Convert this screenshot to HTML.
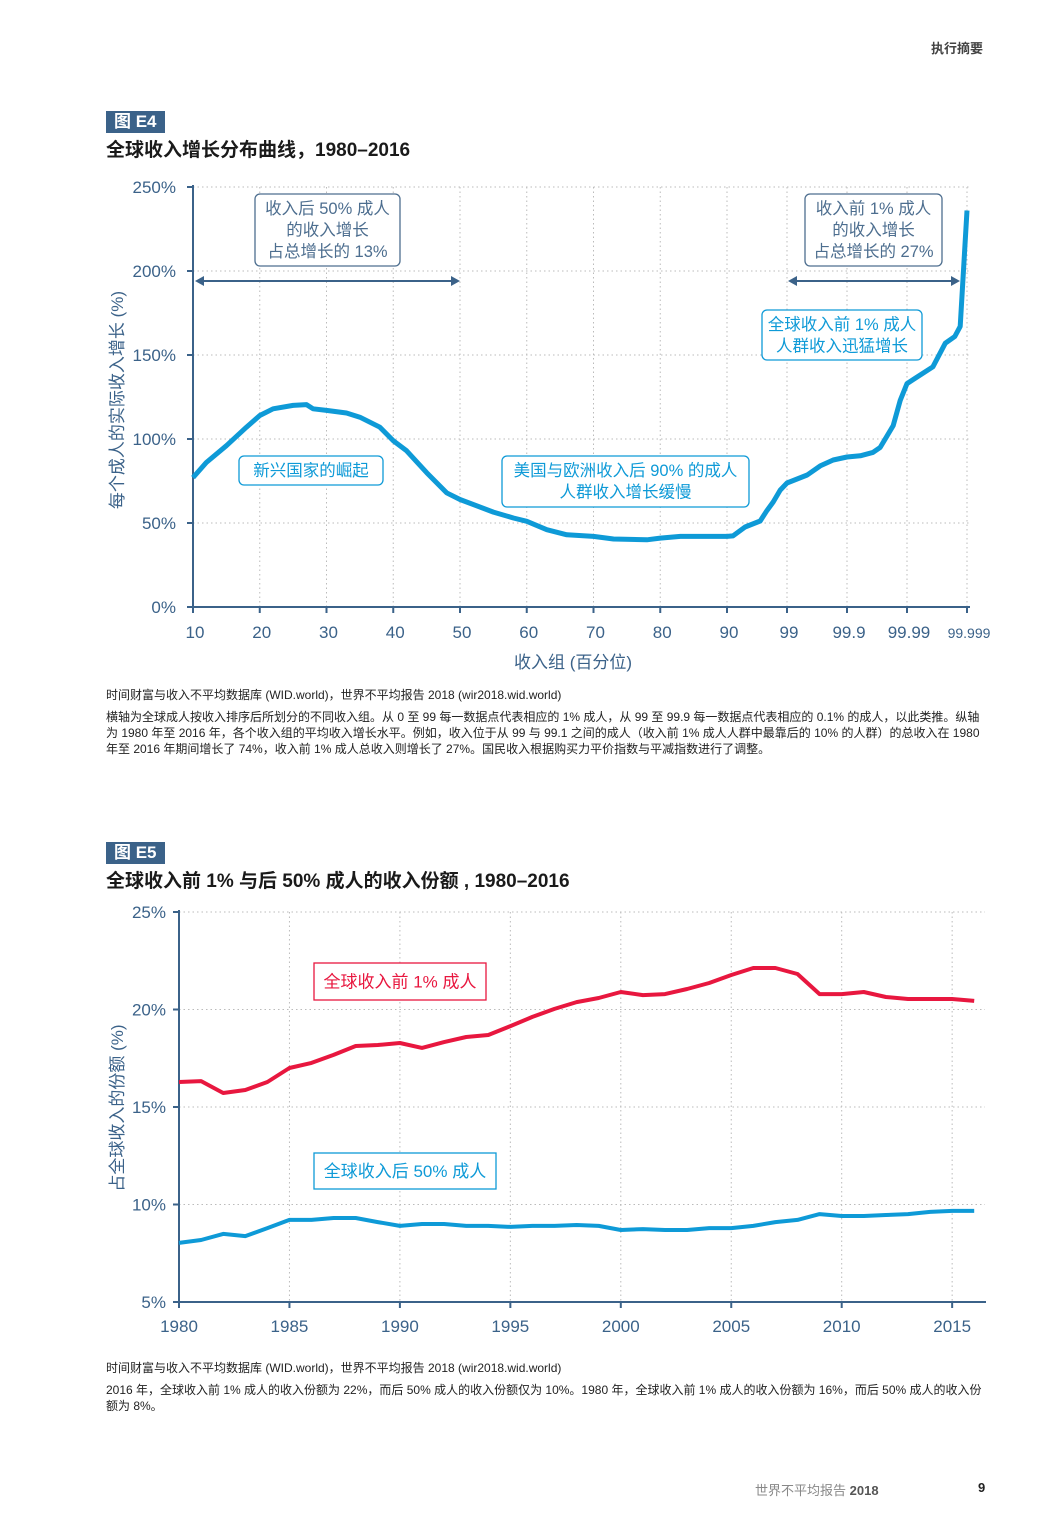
<!DOCTYPE html>
<html><head><meta charset="utf-8">
<style>
body{margin:0;width:1063px;height:1535px;background:#fff;position:relative;font-family:"Liberation Sans","Noto Sans CJK SC",sans-serif;color:#222;overflow:hidden}
.abs{position:absolute}
.tag{background:#3b6289;color:#fff;font-weight:bold;font-size:17px;padding:0 8px;height:22px;line-height:22px}
.title{font-weight:bold;font-size:19px;color:#1a1a1a}
.note{font-size:12px;line-height:16px;color:#222}
svg text{font-family:"Liberation Sans","Noto Sans CJK SC",sans-serif}
</style></head><body>
<div class="abs" style="left:931px;top:38px;font-size:13px;font-weight:bold;color:#444">执行摘要</div>

<div class="abs tag" style="left:106px;top:111px">图 E4</div>
<div class="abs title" style="left:106px;top:135px">全球收入增长分布曲线，1980–2016</div>
<svg class="abs" style="left:0;top:0" width="1063" height="680" id="c1"></svg>
<div class="abs note" style="left:106px;top:687px">时间财富与收入不平均数据库 (WID.world)，世界不平均报告 2018 (wir2018.wid.world)</div>
<div class="abs note" style="left:106px;top:709px;width:885px">横轴为全球成人按收入排序后所划分的不同收入组。从 0 至 99 每一数据点代表相应的 1% 成人，从 99 至 99.9 每一数据点代表相应的 0.1% 的成人，以此类推。纵轴为 1980 年至 2016 年，各个收入组的平均收入增长水平。例如，收入位于从 99 与 99.1 之间的成人（收入前 1% 成人人群中最靠后的 10% 的人群）的总收入在 1980 年至 2016 年期间增长了 74%，收入前 1% 成人总收入则增长了 27%。国民收入根据购买力平价指数与平减指数进行了调整。</div>

<div class="abs tag" style="left:106px;top:842px">图 E5</div>
<div class="abs title" style="left:106px;top:866px">全球收入前 1% 与后 50% 成人的收入份额 , 1980–2016</div>
<svg class="abs" style="left:0;top:890px" width="1063" height="460" id="c2"></svg>
<div class="abs note" style="left:106px;top:1360px">时间财富与收入不平均数据库 (WID.world)，世界不平均报告 2018 (wir2018.wid.world)</div>
<div class="abs note" style="left:106px;top:1382px;width:885px">2016 年，全球收入前 1% 成人的收入份额为 22%，而后 50% 成人的收入份额仅为 10%。1980 年，全球收入前 1% 成人的收入份额为 16%，而后 50% 成人的收入份额为 8%。</div>

<div class="abs" style="left:755px;top:1480px;font-size:13px;color:#888">世界不平均报告 <b style="color:#555">2018</b></div>
<div class="abs" style="left:978px;top:1480px;font-size:13px;font-weight:bold">9</div>

<script>
const NS="http://www.w3.org/2000/svg";
function mk(p,t,a){const e=document.createElementNS(NS,t);for(const k in a)e.setAttribute(k,a[k]);p.appendChild(e);return e;}
const AX="#3b6289",BL="#0e9ad7",RD="#e8173f";

// ---- Chart 1 data ----
const e4Percentiles=[10,12,15,18,20,22,25,27,28,30,33,35,38,40,42,45,48,50,55,58,60,63,66,70,73,78,80,83,90,92.06,95,97.2,97.8,98.3,98.7,99,99.54,99.72,99.83,99.9,99.94,99.963,99.972,99.983,99.987,99.99,99.9926,99.9963,99.9977,99.9984,99.9987,99.999];
const e4Growth=[77,86,96,107,114,118,120,120.5,118,117,115.5,113,107,99,93,80,68,64,56.5,53,51,46,43,42,40.5,40,41,42,42,42.3,47.6,51.2,57,62.5,69.6,73.8,78.6,84,87.5,89.3,90,92,95,108,123,133,136,143,157,161,167,236];
const e4XTicks=[10,20,30,40,50,60,70,80,90,99,99.9,99.99,99.999];
const e4XTickLabels=["10","20","30","40","50","60","70","80","90","99","99.9","99.99","99.999"];
const e4YTicks=[0,50,100,150,200,250];

function x1(p){ if(p<=90) return 193+(p-10)*(534/80); return 727+60*(1-Math.log10(100-p)); }
function y1(v){ return 607-v*1.68; }
const s1=document.getElementById('c1');
e4YTicks.forEach(v=>{
  if(v>0){const g=mk(s1,'line',{x1:193,x2:970,y1:y1(v),y2:y1(v),stroke:'#bbb','stroke-dasharray':'1.5 3'});
  
  }
  const t=mk(s1,'text',{x:176,y:y1(v)+6,'text-anchor':'end','font-size':17,fill:AX});t.textContent=v+'%';
  
  
  mk(s1,'line',{x1:187,x2:193,y1:y1(v),y2:y1(v),stroke:AX,'stroke-width':2});
});
e4XTicks.forEach((p,i)=>{
  const g=mk(s1,'line',{x1:x1(p),x2:x1(p),y1:187,y2:607,stroke:'#bbb','stroke-dasharray':'1.5 3'});
  
  
  mk(s1,'line',{x1:x1(p),x2:x1(p),y1:607,y2:613,stroke:AX,'stroke-width':2});
  const t=mk(s1,'text',{x:x1(p)+2,y:638,'text-anchor':'middle','font-size':i==12?14:17,fill:AX});t.textContent=e4XTickLabels[i];
  
  
});
mk(s1,'line',{x1:193,x2:193,y1:185,y2:608,stroke:AX,'stroke-width':2});
mk(s1,'line',{x1:192,x2:970,y1:607,y2:607,stroke:AX,'stroke-width':2});
let t=mk(s1,'text',{x:573,y:668,'text-anchor':'middle','font-size':17,fill:AX});t.textContent='收入组 (百分位)';

t=mk(s1,'text',{x:0,y:0,'text-anchor':'middle','font-size':17,fill:AX,transform:'translate(123,400) rotate(-90)'});t.textContent='每个成人的实际收入增长 (%)';

let d=e4Percentiles.map((p,i)=>(i?'L':'M')+x1(p).toFixed(1)+' '+y1(e4Growth[i]).toFixed(1)).join(' ');
const ln=mk(s1,'path',{d:d,fill:'none',stroke:BL,'stroke-width':5,'stroke-linejoin':'round'});

function arrow(xa,xb,y){mk(s1,'line',{x1:xa+6,x2:xb-6,y1:y,y2:y,stroke:AX,'stroke-width':2});
 mk(s1,'path',{d:`M${xa} ${y} l9 -5 v10z M${xb} ${y} l-9 -5 v10z`,fill:AX});}
arrow(195,460,281);arrow(788,960,281);
function box(x,y,w,h,lines,col,name){
 const g=mk(s1,'g',{});
 mk(g,'rect',{x:x,y:y,width:w,height:h,rx:5,fill:'#fff',stroke:col,'stroke-width':1.3});
 lines.forEach((l,i)=>{const tt=mk(g,'text',{x:x+w/2,y:y+20+i*21.5,'text-anchor':'middle','font-size':16.5,fill:col});tt.textContent=l;});
}
box(255,194,145,72,['收入后 50% 成人','的收入增长','占总增长的 13%'],'#4d6e8f','bottom50-annotation');
box(805,194,137,72,['收入前 1% 成人','的收入增长','占总增长的 27%'],'#4d6e8f','top1-annotation');
box(762,310,160,50,['全球收入前 1% 成人','人群收入迅猛增长'],BL,'top1-surge-annotation');
box(239,456,144,29,['新兴国家的崛起'],BL,'emerging-annotation');
box(502,456,247,51,['美国与欧洲收入后 90% 的成人','人群收入增长缓慢'],BL,'us-europe-annotation');

// ---- Chart 2 data ----
const e5Years=[1980,1981,1982,1983,1984,1985,1986,1987,1988,1989,1990,1991,1992,1993,1994,1995,1996,1997,1998,1999,2000,2001,2002,2003,2004,2005,2006,2007,2008,2009,2010,2011,2012,2013,2014,2015,2016];
const e5Top1=[16.28,16.33,15.72,15.87,16.28,17.0,17.26,17.67,18.13,18.18,18.28,18.03,18.33,18.59,18.69,19.15,19.62,20.03,20.38,20.59,20.9,20.74,20.79,21.05,21.36,21.77,22.13,22.13,21.82,20.79,20.79,20.9,20.64,20.54,20.54,20.54,20.44];
const e5Bottom50=[8.03,8.18,8.49,8.38,8.79,9.21,9.21,9.31,9.31,9.1,8.9,9.0,9.0,8.9,8.9,8.85,8.9,8.9,8.95,8.9,8.69,8.74,8.69,8.69,8.79,8.79,8.9,9.1,9.21,9.51,9.41,9.41,9.46,9.51,9.62,9.67,9.67];
const e5XTicks=[1980,1985,1990,1995,2000,2005,2010,2015];
const e5YTicks=[5,10,15,20,25];
const OY=890;
function x2(yr){return 179+(yr-1980)*22.09;}
function y2(v){return 1302-OY-(v-5)*19.5;}
const s2=document.getElementById('c2');
e5YTicks.forEach(v=>{
  if(v>5){const g=mk(s2,'line',{x1:179,x2:985,y1:y2(v),y2:y2(v),stroke:'#bbb','stroke-dasharray':'1.5 3'});
  }
  mk(s2,'line',{x1:173,x2:179,y1:y2(v),y2:y2(v),stroke:AX,'stroke-width':2});
  const tt=mk(s2,'text',{x:166,y:y2(v)+6,'text-anchor':'end','font-size':17,fill:AX});tt.textContent=v+'%';
  
});
e5XTicks.forEach(yr=>{
  const g=mk(s2,'line',{x1:x2(yr),x2:x2(yr),y1:y2(25),y2:y2(5),stroke:'#bbb','stroke-dasharray':'1.5 3'});
  
  mk(s2,'line',{x1:x2(yr),x2:x2(yr),y1:y2(5),y2:y2(5)+6,stroke:AX,'stroke-width':2});
  const tt=mk(s2,'text',{x:x2(yr),y:y2(5)+30,'text-anchor':'middle','font-size':17,fill:AX});tt.textContent=yr;
  
});
mk(s2,'line',{x1:179,x2:179,y1:y2(25)-2,y2:y2(5)+1,stroke:AX,'stroke-width':2});
mk(s2,'line',{x1:178,x2:986,y1:y2(5),y2:y2(5),stroke:AX,'stroke-width':2});
t=mk(s2,'text',{x:0,y:0,'text-anchor':'middle','font-size':17,fill:AX,transform:`translate(123,${1108-OY}) rotate(-90)`});t.textContent='占全球收入的份额 (%)';

function series(vals,col,name){const dd=e5Years.map((yr,i)=>(i?'L':'M')+x2(yr).toFixed(1)+' '+y2(vals[i]).toFixed(1)).join(' ');
 const p=mk(s2,'path',{d:dd,fill:'none',stroke:col,'stroke-width':4,'stroke-linejoin':'round'});
 }
series(e5Top1,RD,'top1-line');series(e5Bottom50,BL,'bottom50-line');
function box2(x,y,w,h,l,col,name){const g=mk(s2,'g',{});
 mk(g,'rect',{x:x,y:y-OY,width:w,height:h,fill:'#fff',stroke:col,'stroke-width':1.3});
 const tt=mk(g,'text',{x:x+w/2,y:y-OY+h/2+6,'text-anchor':'middle','font-size':17,fill:col});tt.textContent=l;}
box2(314,963,172,37,'全球收入前 1% 成人',RD,'top1-label');
box2(314,1153,182,36,'全球收入后 50% 成人',BL,'bottom50-label');
</script>
</body></html>
